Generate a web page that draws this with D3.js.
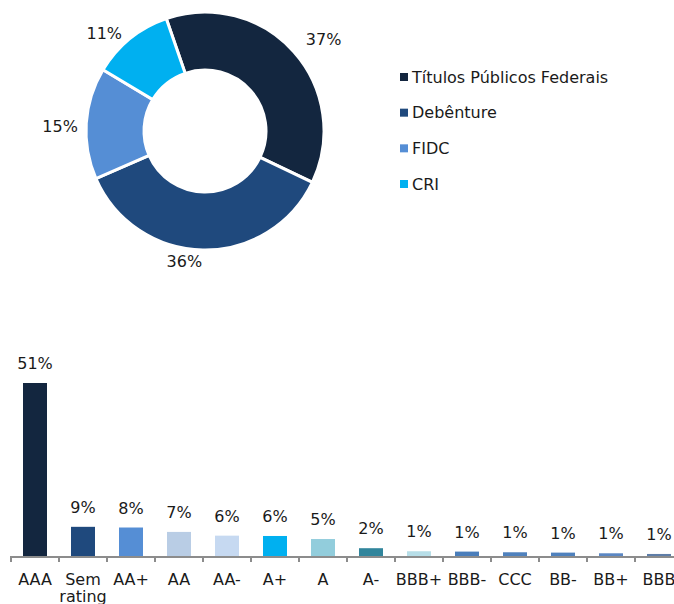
<!DOCTYPE html>
<html>
<head>
<meta charset="utf-8">
<script src="https://cdn.jsdelivr.net/npm/d3@7"></script>
<style>
  body { margin: 0; background: #fff; }
  text { font-family: "DejaVu Sans", Verdana, sans-serif; fill: #1a1a1a; }
</style>
</head>
<body>
<script>
// Donut data
var assetTypes = ["Títulos Públicos Federais", "Debênture", "FIDC", "CRI"];
var assetShares = [37, 36, 15, 11];
var assetColors = ["#13263f", "#1f497d", "#558ed5", "#00b0f0"];

// Bar data (rating breakdown)
var ratings = ["AAA", "Sem rating", "AA+", "AA", "AA-", "A+", "A", "A-", "BBB+", "BBB-", "CCC", "BB-", "BB+", "BBB"];
var ratingShares = [51, 8.6, 8.4, 7.1, 6.0, 5.9, 5.0, 2.3, 1.4, 1.3, 1.1, 1.0, 0.8, 0.6];
var ratingColors = ["#13263f", "#1f497d", "#558ed5", "#b9cde5", "#c6d9f1", "#00b0f0", "#92cddc", "#31859c",
                    "#b7dee8", "#4a7ebb", "#4f81bd", "#4f81bd", "#5b87c3", "#5f7ea8"];

var width = 674,
    height = 604;

var svg = d3.select("body")
    .append("svg")
    .attr("width", width)
    .attr("height", height);

drawDonut();
drawLegend();
drawBars();

function drawDonut() {
    var cx = 205, cy = 131;
    var outer = 119, inner = 61;
    var start = -19 * Math.PI / 180;

    var pie = d3.pie()
        .sort(null)
        .startAngle(start)
        .endAngle(start + 2 * Math.PI);

    var arc = d3.arc().innerRadius(inner).outerRadius(outer);

    // "best fit" style tweaks: angle shift (deg) and radius for each label
    var labelShift = [4, 8, -2, -7];
    var labelRadius = [150, 132, 145, 140];

    var g = svg.append("g")
        .attr("transform", "translate(" + cx + "," + cy + ")");

    var arcs = pie(assetShares);

    g.selectAll(".slice")
        .data(arcs)
        .enter()
        .append("path")
        .attr("class", "slice")
        .attr("d", arc)
        .attr("fill", (d, i) => assetColors[i])
        .attr("stroke", "#fff")
        .attr("stroke-width", 3);

    g.selectAll(".plabel")
        .data(arcs)
        .enter()
        .append("text")
        .attr("class", "plabel")
        .attr("transform", function (d, i) {
            var a = (d.startAngle + d.endAngle) / 2 + labelShift[i] * Math.PI / 180;
            var r = labelRadius[i];
            return "translate(" + (Math.sin(a) * r) + "," + (-Math.cos(a) * r) + ")";
        })
        .attr("text-anchor", "middle")
        .attr("dy", "0.35em")
        .style("font-size", "16px")
        .text(d => d.data + "%");
}

function drawLegend() {
    var y = d3.scalePoint()
        .domain(assetTypes)
        .range([77, 184]);

    var g = svg.append("g");
    var rows = g.selectAll(".lg")
        .data(assetTypes)
        .enter()
        .append("g")
        .attr("class", "lg")
        .attr("transform", d => "translate(400," + y(d) + ")");

    rows.append("rect")
        .attr("x", 0)
        .attr("y", -4)
        .attr("width", 8)
        .attr("height", 8)
        .attr("fill", (d, i) => assetColors[i]);

    rows.append("text")
        .attr("x", 12)
        .attr("dy", "0.35em")
        .style("font-size", "16px")
        .text(d => d);
}

function drawBars() {
    var base = 556;
    var x = d3.scaleBand()
        .domain(ratings)
        .range([11, 11 + ratings.length * 48])
        .paddingInner(0.5)
        .paddingOuter(0.25);

    var y = d3.scaleLinear()
        .domain([0, 51])
        .range([base, 383]);

    svg.selectAll(".bar")
        .data(ratings)
        .enter()
        .append("rect")
        .attr("class", "bar")
        .attr("x", d => x(d))
        .attr("width", x.bandwidth())
        .attr("y", (d, i) => y(ratingShares[i]))
        .attr("height", (d, i) => base - y(ratingShares[i]))
        .attr("fill", (d, i) => ratingColors[i]);

    svg.selectAll(".blabel")
        .data(ratings)
        .enter()
        .append("text")
        .attr("class", "blabel")
        .attr("x", d => x(d) + x.bandwidth() / 2)
        .attr("y", (d, i) => y(ratingShares[i]) - 14)
        .attr("text-anchor", "middle")
        .style("font-size", "16px")
        .text((d, i) => Math.round(ratingShares[i]) + "%");

    // axis line and ticks between categories
    var axis = svg.append("g");
    axis.append("line")
        .attr("x1", 11).attr("x2", width)
        .attr("y1", base + 1).attr("y2", base + 1)
        .attr("stroke", "#8c8c8c")
        .attr("stroke-width", 2);

    axis.selectAll(".tk")
        .data(d3.range(ratings.length + 1))
        .enter()
        .append("line")
        .attr("class", "tk")
        .attr("x1", i => 11 + i * x.step())
        .attr("x2", i => 11 + i * x.step())
        .attr("y1", base)
        .attr("y2", base + 6)
        .attr("stroke", "#8c8c8c")
        .attr("stroke-width", 2);

    svg.selectAll(".clabel")
        .data(ratings)
        .enter()
        .append("text")
        .attr("class", "clabel")
        .attr("x", d => x(d) + x.bandwidth() / 2)
        .attr("y", 585)
        .attr("text-anchor", "middle")
        .style("font-size", "16px")
        .each(function (d) {
            var words = d.split(" ");
            var t = d3.select(this);
            words.forEach(function (w, k) {
                t.append("tspan")
                    .attr("x", x(d) + x.bandwidth() / 2)
                    .attr("dy", k === 0 ? 0 : 17)
                    .text(w);
            });
        });
}
</script>
</body>
</html>
